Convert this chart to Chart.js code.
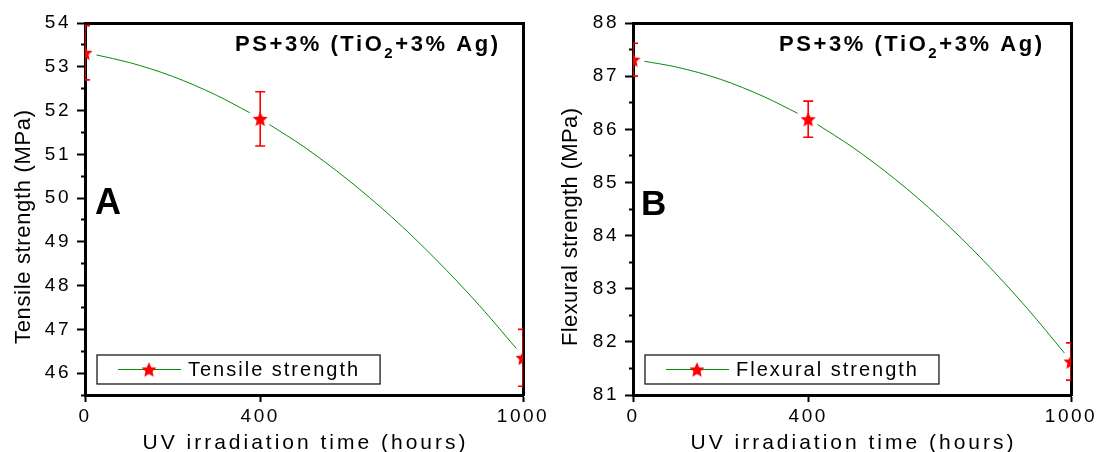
<!DOCTYPE html>
<html><head><meta charset="utf-8">
<script src="https://cdn.jsdelivr.net/npm/chart.js@4.4.1/dist/chart.umd.min.js"></script>
<style>
html,body{margin:0;padding:0;background:#fff;}
#wrap{position:relative;width:1098px;height:452px;overflow:hidden;background:#fff;}
.panel{position:absolute;top:0;height:452px;}
#pA{left:0;width:549px;}
#pB{left:548px;width:550px;}
</style></head><body>
<div id="wrap">
  <div class="panel" id="pA"><canvas id="cA"></canvas></div>
  <div class="panel" id="pB"><canvas id="cB"></canvas></div>
</div>
<script>
// ---------- data ----------
const hours = [0, 400, 1000];
const xTickValues = [0, 400, 1000];

const tensile = [53.32, 51.81, 46.35];
const tensileErr = [0.62, 0.62, 0.65];
const flexural = [87.31, 86.19, 81.63];
const flexuralErr = [0.31, 0.34, 0.35];

// fitted curve (null = gap around the marker)
const fitHours = [26, 100, 200, 300, 376, 400, 421, 500, 600, 700, 800, 900, 985];
const tensileFit = [53.27, 53.10, 52.78, 52.35, 51.95, null, 51.68, 51.17, 50.42, 49.57, 48.61, 47.55, 46.56];
const flexuralFit = [87.28, 87.17, 86.94, 86.61, 86.30, null, 86.09, 85.67, 85.05, 84.34, 83.53, 82.63, 81.79];

const tensileTicks = [46, 47, 48, 49, 50, 51, 52, 53, 54];
const tensileMinor = [45.5, 46.5, 47.5, 48.5, 49.5, 50.5, 51.5, 52.5, 53.5];
const flexuralTicks = [81, 82, 83, 84, 85, 86, 87, 88];
const flexuralMinor = [81.5, 82.5, 83.5, 84.5, 85.5, 86.5, 87.5];

const panelTitleMain = ['PS+3% (TiO', '2', '+3% Ag)'];
const xTitle = 'UV irradiation time (hours)';

// ---------- styling helpers ----------
const FONT = '"Liberation Sans", Arial, Helvetica, sans-serif';
const RED = '#ff0000';
const GREEN = '#0a8a0a';

function makeStar(R, r, color) {
  const s = Math.ceil(2 * R + 2);
  const c = document.createElement('canvas');
  c.width = s; c.height = s;
  const g = c.getContext('2d');
  g.translate(s / 2, s / 2 + 0.09 * R);
  g.beginPath();
  for (let i = 0; i < 10; i++) {
    const rad = i % 2 === 0 ? R : r;
    const a = -Math.PI / 2 + i * Math.PI / 5;
    const px = rad * Math.cos(a), py = rad * Math.sin(a);
    if (i === 0) g.moveTo(px, py); else g.lineTo(px, py);
  }
  g.closePath();
  g.fillStyle = color;
  g.fill();
  return c;
}
const starImg = makeStar(8, 3.7, RED);

function spacingFor(ctx, text, font, target) {
  ctx.font = font;
  ctx.letterSpacing = '0px';
  const w = ctx.measureText(text).width;
  return (target - w) / Math.max(1, text.length - 1);
}

function makeDecor(p) {
  return {
    id: 'decor_' + p.key,
    beforeDraw(chart) { chart.ctx.letterSpacing = '2.5px'; },
    afterDraw(chart) {
      const ctx = chart.ctx, ca = chart.chartArea;
      const xs = chart.scales.x, ys = chart.scales.y;
      // error bars
      ctx.save();
      ctx.beginPath();
      ctx.rect(ca.left, ca.top, ca.right - ca.left, ca.bottom - ca.top);
      ctx.clip();
      ctx.strokeStyle = RED;
      ctx.lineWidth = 1.6;
      p.xv.forEach((xv, i) => {
        const px = xs.getPixelForValue(xv);
        const yt = ys.getPixelForValue(p.yv[i] + p.err[i]);
        const yb = ys.getPixelForValue(p.yv[i] - p.err[i]);
        ctx.beginPath();
        ctx.moveTo(px, yt); ctx.lineTo(px, yb);
        ctx.moveTo(px - 5, yt); ctx.lineTo(px + 5, yt);
        ctx.moveTo(px - 5, yb); ctx.lineTo(px + 5, yb);
        ctx.stroke();
      });
      ctx.restore();

      ctx.save();
      ctx.fillStyle = '#000';
      // panel title with subscript
      const fMain = `bold 22px ${FONT}`, fSub = `bold 15px ${FONT}`;
      ctx.letterSpacing = '0px';
      ctx.font = fMain;
      let nat = ctx.measureText(panelTitleMain[0]).width + ctx.measureText(panelTitleMain[2]).width;
      ctx.font = fSub;
      nat += ctx.measureText(panelTitleMain[1]).width;
      const nChars = panelTitleMain.join('').length;
      const sp = (263 - nat) / (nChars - 1);
      ctx.letterSpacing = sp + 'px';
      ctx.textAlign = 'left';
      ctx.textBaseline = 'alphabetic';
      let tx = p.titleLeft;
      ctx.font = fMain;
      ctx.fillText(panelTitleMain[0], tx, 51);
      tx += ctx.measureText(panelTitleMain[0]).width;
      ctx.font = fSub;
      ctx.fillText(panelTitleMain[1], tx, 58);
      tx += ctx.measureText(panelTitleMain[1]).width;
      ctx.font = fMain;
      ctx.fillText(panelTitleMain[2], tx, 51);

      // panel letter
      ctx.letterSpacing = '0px';
      ctx.font = `bold ${p.letterSize}px ${FONT}`;
      ctx.fillText(p.letter, p.letterX, p.letterY);

      // x axis title
      const fx = `21px ${FONT}`;
      const sx = spacingFor(ctx, xTitle, fx, 323);
      ctx.font = fx;
      ctx.letterSpacing = sx + 'px';
      ctx.textAlign = 'center';
      ctx.fillText(xTitle, (ca.left + ca.right) / 2 + sx / 2, 449);

      // y axis title
      const fy = `22px ${FONT}`;
      const sy = spacingFor(ctx, p.yTitle, fy, p.yTitleLen);
      ctx.save();
      ctx.translate(p.yTitleX, p.yTitleY);
      ctx.rotate(-Math.PI / 2);
      ctx.font = fy;
      ctx.letterSpacing = sy + 'px';
      ctx.textAlign = 'center';
      ctx.fillText(p.yTitle, sy / 2, 0);
      ctx.restore();

      // legend box
      ctx.letterSpacing = '2px';
      ctx.font = `20px ${FONT}`;
      ctx.textAlign = 'left';
      const tw = ctx.measureText(p.label).width;
      const bx = 97, by = 355, bh = 29;
      const bw = 188 + tw + 20 - bx;
      ctx.fillStyle = '#fff';
      ctx.fillRect(bx, by, bw, bh);
      ctx.strokeStyle = '#1a1a1a';
      ctx.lineWidth = 1.3;
      ctx.strokeRect(bx, by, bw, bh);
      ctx.strokeStyle = GREEN;
      ctx.lineWidth = 1;
      ctx.beginPath();
      ctx.moveTo(118, 369.5); ctx.lineTo(181, 369.5);
      ctx.stroke();
      ctx.drawImage(starImg, 149 - starImg.width / 2, 369.5 - starImg.height / 2);
      ctx.fillStyle = '#000';
      ctx.fillText(p.label, 188, 376);
      ctx.restore();
    }
  };
}

function buildChart(canvasId, p) {
  const tickFont = { family: FONT, size: 19 };
  return new Chart(document.getElementById(canvasId), {
    type: 'line',
    data: {
      datasets: [
        {
          label: 'fit',
          data: fitHours.map((x, i) => ({ x: x, y: p.fit[i] })),
          borderColor: GREEN,
          borderWidth: 1,
          pointRadius: 0,
          spanGaps: false,
          cubicInterpolationMode: 'monotone',
          clip: 0
        },
        {
          label: p.label,
          data: p.xv.map((x, i) => ({ x: x, y: p.yv[i] })),
          showLine: false,
          pointStyle: starImg,
          pointRadius: 8,
          pointBackgroundColor: RED,
          pointBorderColor: RED,
          clip: 0
        }
      ]
    },
    options: {
      responsive: true,
      maintainAspectRatio: false,
      animation: false,
      devicePixelRatio: 1,
      events: [],
      layout: { padding: { left: 0, right: p.padRight, top: 23, bottom: 0 } },
      plugins: { legend: { display: false }, tooltip: { enabled: false }, title: { display: false } },
      scales: {
        x: {
          type: 'linear', position: 'bottom', min: 0, max: 1000,
          afterBuildTicks: s => { s.ticks = xTickValues.map(v => ({ value: v })); },
          afterFit: s => { s.height = 57; },
          grid: { drawOnChartArea: false, tickLength: 7, tickWidth: 2, tickColor: '#000' },
          border: { width: 3, color: '#000' },
          ticks: { font: tickFont, color: '#000', padding: 3, maxRotation: 0, autoSkip: false,
                   callback: v => String(v) }
        },
        x2: {
          type: 'linear', axis: 'x', position: 'top', min: 0, max: 1000,
          afterFit: s => { s.height = 0; },
          grid: { drawOnChartArea: false, drawTicks: false },
          border: { width: 3, color: '#000' },
          ticks: { display: false }
        },
        y: {
          type: 'linear', position: 'left', min: p.ymin, max: p.ymax,
          afterBuildTicks: s => { s.ticks = p.ticks.map(v => ({ value: v })); },
          afterFit: s => { s.width = 85; },
          grid: { drawOnChartArea: false, tickLength: 8, tickWidth: 2, tickColor: '#000' },
          border: { width: 3, color: '#000' },
          ticks: { font: tickFont, color: '#000', padding: 6, autoSkip: false,
                   callback: v => String(v) }
        },
        yMinor: {
          type: 'linear', axis: 'y', position: { x: 0 }, min: p.ymin, max: p.ymax,
          afterBuildTicks: s => { s.ticks = p.minor.map(v => ({ value: v })); },
          grid: { drawOnChartArea: false, tickLength: 4, tickWidth: 2, tickColor: '#000' },
          border: { display: false },
          ticks: { display: false }
        },
        y2: {
          type: 'linear', axis: 'y', position: 'right', min: p.ymin, max: p.ymax,
          afterBuildTicks: s => { s.ticks = p.ticks.concat(p.minor).map(v => ({ value: v })); },
          afterFit: s => { s.width = 0; },
          grid: { drawOnChartArea: false, tickLength: 2, tickWidth: 2, tickColor: '#000' },
          border: { width: 3, color: '#000' },
          ticks: { display: false }
        }
      }
    },
    plugins: [makeDecor(p)]
  });
}

buildChart('cA', {
  key: 'A', xv: hours, yv: tensile, err: tensileErr, fit: tensileFit,
  ymin: 45.5, ymax: 54, ticks: tensileTicks, minor: tensileMinor,
  label: 'Tensile strength', yTitle: 'Tensile strength (MPa)',
  yTitleX: 29.5, yTitleY: 227, yTitleLen: 234,
  titleLeft: 235, letter: 'A', letterSize: 36, letterX: 95, letterY: 213.5,
  padRight: 26
});
buildChart('cB', {
  key: 'B', xv: hours, yv: flexural, err: flexuralErr, fit: flexuralFit,
  ymin: 81, ymax: 88, ticks: flexuralTicks, minor: flexuralMinor,
  label: 'Flexural strength', yTitle: 'Flexural strength (MPa)',
  yTitleX: 29, yTitleY: 227, yTitleLen: 238,
  titleLeft: 231, letter: 'B', letterSize: 35, letterX: 93, letterY: 215,
  padRight: 27
});
</script>
</body></html>
